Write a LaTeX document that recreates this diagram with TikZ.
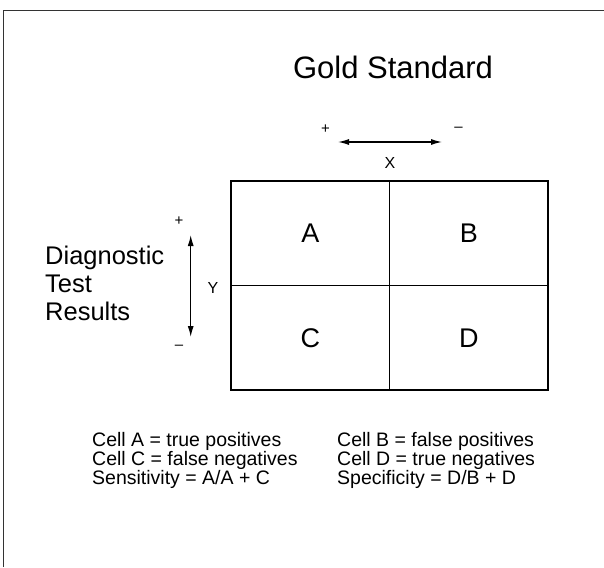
\documentclass[tikz,border=0pt]{standalone}
\usepackage{fontspec}
\setmainfont{Liberation Sans}
\usetikzlibrary{arrows.meta}
\usetikzlibrary{positioning}
\tikzstyle{cell}=[draw, line width=1.4pt, minimum width=158.5pt, minimum height=104.5pt,
                inner sep=0, outer sep=0, font=\fontsize{27}{27}\selectfont]
\tikzstyle{axis}=[<->, >={Latex[length=11pt,width=6pt]}, line width=1.3pt]
\tikzstyle{sign}=[inner sep=0, font=\fontsize{15}{15}\selectfont]
\tikzstyle{axislabel}=[inner sep=0, font=\fontsize{16}{16}\selectfont]
\tikzstyle{celltext}=[inner sep=0, anchor=base west, font=\fontsize{19.5}{19.5}\selectfont]

\begin{document}
\begin{tikzpicture}[x=1pt, y=-1pt]
\useasboundingbox (0,0) rectangle (604,567);
% frame
\coordinate (fbl) at (3,567);
\coordinate (ftl) at (3,11);
\coordinate (ftr) at (604,11);
\draw[line width=1pt, black!80] (fbl) -- (ftl) -- (ftr);

\node[font=\fontsize{31}{31}\selectfont, inner sep=0, anchor=base] at (393,79) (gold) {Gold Standard};

% 2x2 table
\node[cell] at (310.25,233.25) (A) {A};
\node[cell, right = 0pt of A] (B) {B};
\node[cell, below = 0pt of A] (C) {C};
\node[cell, right = 0pt of C] (D) {D};

% gold standard axis
\coordinate (xl) at (338,142);
\coordinate (xr) at (442,142);
\draw[axis] (xl) -- (xr);
\node[sign] at (325.5,129) (xplus) {+};
\node[sign] at (458.5,129) (xminus) {–};
\node[axislabel] at (390,162.5) (xlab) {X};

% test axis
\coordinate (yt) at (190.7,235);
\coordinate (yb) at (190.7,337);
\draw[axis] (yt) -- (yb);
\node[sign] at (179,221) (yplus) {+};
\node[sign] at (179,347) (yminus) {–};
\node[axislabel] at (213,287.5) (ylab) {Y};

\foreach \t [count=\i] in {Diagnostic,Test,Results}
  \node[font=\fontsize{25.5}{25.5}\selectfont, inner sep=0, anchor=base west]
    at (45,{264+28.3*(\i-1)}) (diag\i) {\t};

\foreach \t [count=\i] in {{Cell A = true positives},{Cell C = false negatives},{Sensitivity = A/A + C}}
  \node[celltext] at (92,{446+19*(\i-1)}) (left\i) {\t};
\foreach \t [count=\i] in {{Cell B = false positives},{Cell D = true negatives},{Specificity = D/B + D}}
  \node[celltext] at (337,{446+19*(\i-1)}) (right\i) {\t};
\end{tikzpicture}
\end{document}
